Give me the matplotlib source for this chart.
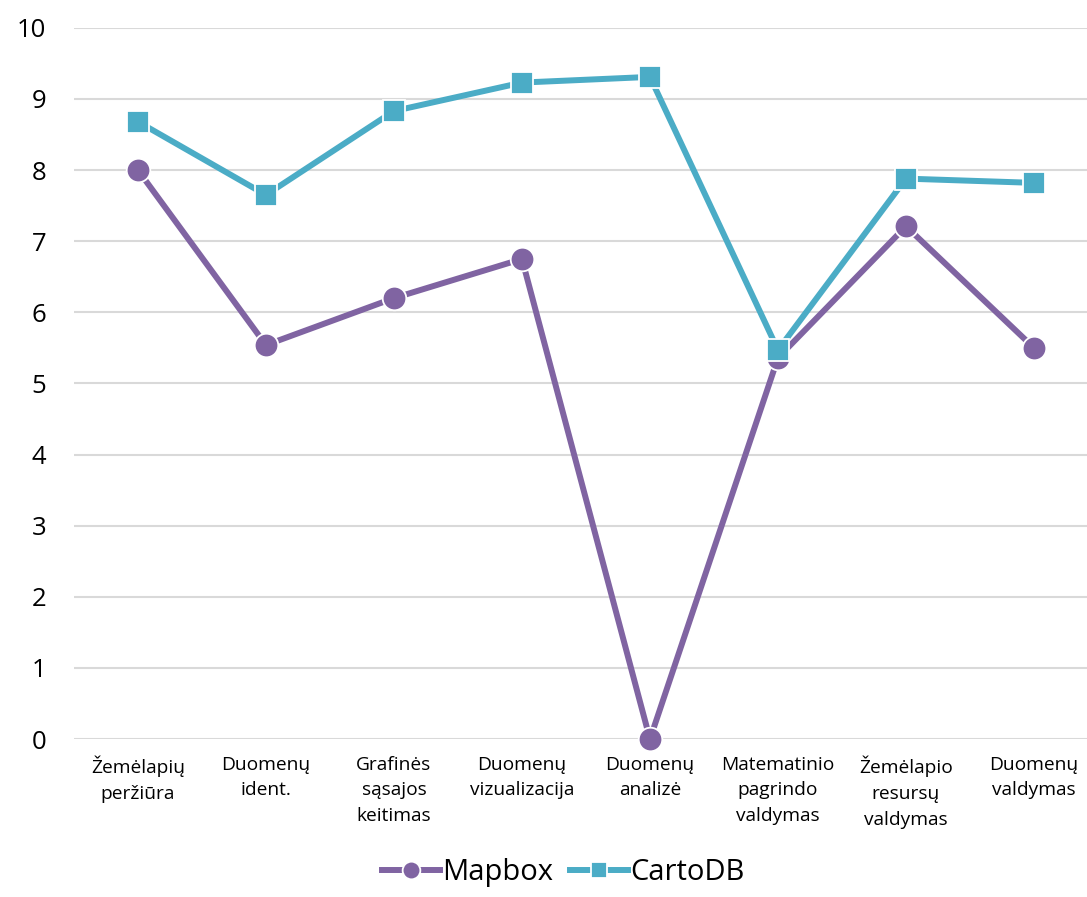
import matplotlib
matplotlib.use("Agg")
import matplotlib.pyplot as plt

plt.rcParams['font.family'] = ['Open Sans', 'DejaVu Sans']

# category labels (Lithuanian, as in the source)
categories = ['Žemėlapių\nperžiūra', 'Duomenų\nident.', 'Grafinės\nsąsajos\nkeitimas',
              'Duomenų\nvizualizacija', 'Duomenų\nanalizė', 'Matematinio\npagrindo\nvaldymas',
              'Žemėlapio\nresursų\nvaldymas', 'Duomenų\nvaldymas']
mapbox = [8.0, 5.54, 6.2, 6.75, 0.0, 5.36, 7.21, 5.5]
cartodb = [8.68, 7.65, 8.83, 9.23, 9.31, 5.47, 7.88, 7.82]
yticks = [0, 1, 2, 3, 4, 5, 6, 7, 8, 9, 10]

PURPLE = '#8064a2'
TEAL = '#4bacc6'

fig = plt.figure(figsize=(10.87, 8.97), dpi=100)
ax = fig.add_axes([0.068, 0.176, 0.932, 0.793])

x = list(range(len(categories)))
ax.plot(x, mapbox, color=PURPLE, lw=4.3, marker='o', ms=17,
        mec='white', mew=1.3, label='Mapbox', clip_on=False, zorder=3)
ax.plot(x, cartodb, color=TEAL, lw=4.3, marker='s', ms=16,
        mec='white', mew=1.3, label='CartoDB', clip_on=False, zorder=4)

ax.set_ylim(0, 10)
ax.set_xlim(-0.5, 7.414)
ax.set_yticks(yticks)
ax.set_xticks(x)
ax.set_xticklabels(categories, fontsize=13.8, linespacing=1.55)
ax.tick_params(axis='y', labelsize=18.5, length=0, pad=20)
ax.tick_params(axis='x', length=0, pad=12)
ax.grid(axis='y', color='#d9d9d9', lw=1.5)
ax.set_axisbelow(True)
for s in ax.spines.values():
    s.set_visible(False)

# legend sits right at the bottom edge like the original
leg = fig.legend(loc='lower center', bbox_to_anchor=(0.518, -0.018), ncol=2,
                 frameon=False, fontsize=21, handlelength=2.0, markerscale=0.75,
                 handletextpad=0.05, columnspacing=0.6)

fig.savefig('out.png', dpi=100)
